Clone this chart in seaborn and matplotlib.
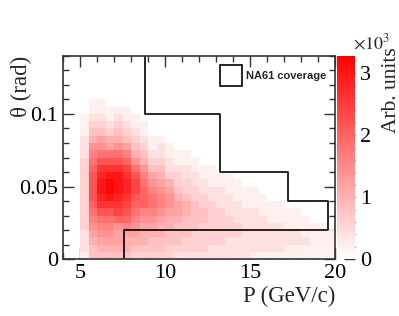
import numpy as np
import pandas as pd
import seaborn as sns
import matplotlib.pyplot as plt
from matplotlib.colors import LinearSegmentedColormap
from matplotlib.patches import Patch
from matplotlib.ticker import MultipleLocator, FuncFormatter

# Binning: P (GeV/c) and theta (rad)
p_edges = np.linspace(4.0, 20.0, 33)
theta_edges = np.linspace(0.0, 0.14, 29)

# One string per P bin, one base-36 digit per theta bin (theta = 0 upward).
# Each digit counts in units of 200 (so 'g' = 3200).
theta_profiles = [
    "",
    "",
    "12223333333333222111",
    "4456789abbbba987543211",
    "456789bdeffedb97643211",
    "456789bdfggfdb9653211",
    "45667acdefffdb9754321",
    "45568abcdeedca8643211",
    "3456789abccb97543211",
    "3455678aaa987543211",
    "34456789987643211",
    "34455678876543221",
    "3344556776532211",
    "234445665433211",
    "233444554332211",
    "23334444332211",
    "2333344332211",
    "2233333322111",
    "223333322211",
    "222333222111",
    "22233222111",
    "2222222111",
    "1222222111",
    "122222111",
    "12222111",
    "12222111",
    "1122111",
    "1122111",
    "112111",
    "11111",
    "11111",
    "1111",
]
count_unit = 200

# NA61 acceptance boundary
cov_p = [7.6, 7.6, 19.6, 19.6, 17.2, 17.2, 13.2, 13.2, 8.8, 8.8]
cov_theta = [0.0, 0.02, 0.02, 0.04, 0.04, 0.06, 0.06, 0.10, 0.10, 0.15]

# Colour bar ticks (x10^3)
cbar_ticks = [0, 1000, 2000, 3000]
cbar_labels = ["0", "1", "2", "3"]

p_mid = (p_edges[:-1] + p_edges[1:]) / 2
t_mid = (theta_edges[:-1] + theta_edges[1:]) / 2
rows = []
for p, prof in zip(p_mid, theta_profiles):
    for t, ch in zip(t_mid, prof.ljust(len(t_mid), "0")):
        rows.append((p, t, int(ch, 36) * count_unit))
df = pd.DataFrame(rows, columns=["P", "theta", "counts"])

sns.set_style("ticks")
plt.rcParams["font.family"] = ["Liberation Serif", "DejaVu Serif"]
plt.rcParams["mathtext.fontset"] = "stix"
plt.rcParams["axes.edgecolor"] = "#333333"
plt.rcParams["xtick.color"] = "#333333"
plt.rcParams["ytick.color"] = "#333333"
plt.rcParams["xtick.labelcolor"] = "black"
plt.rcParams["ytick.labelcolor"] = "black"

cmap = LinearSegmentedColormap.from_list("white_red", ["#ffffff", "#ff0000"])

fig = plt.figure(figsize=(3.99, 3.16), dpi=100)
ax = fig.add_axes([0.158, 0.180, 0.682, 0.643])
cax = fig.add_axes([0.844, 0.180, 0.046, 0.643])

sns.histplot(data=df, x="P", y="theta", weights="counts",
             bins=(p_edges, theta_edges), cmap=cmap, vmin=0, vmax=3280,
             cbar=True, cbar_ax=cax, ax=ax)

ax.plot(cov_p, cov_theta, color="black", lw=1.2)

ax.set_xlim(4, 20)
ax.set_ylim(0, 0.14)
ax.xaxis.set_major_locator(MultipleLocator(5))
ax.xaxis.set_minor_locator(MultipleLocator(1))
ax.yaxis.set_major_locator(MultipleLocator(0.05))
ax.yaxis.set_minor_locator(MultipleLocator(0.01))
ax.yaxis.set_major_formatter(FuncFormatter(lambda v, _: "%g" % round(v, 3)))
ax.tick_params(which="both", direction="in", top=True, right=True,
               labelsize=16, width=1)
ax.tick_params(which="major", length=8)
ax.tick_params(which="minor", length=4)
for s in ax.spines.values():
    s.set_linewidth(1.2)

ax.set_xlabel("P (GeV/c)", fontsize=16.5, loc="right", labelpad=2)
ax.set_ylabel("θ (rad)", fontsize=16.5, loc="top")
ax.yaxis.set_label_coords(-0.115, 1.0)

leg_handle = Patch(facecolor="none", edgecolor="black", lw=1.2,
                   label="NA61 coverage")
ax.legend(handles=[leg_handle], loc="upper right", frameon=False,
          prop={"family": "Liberation Sans", "weight": "bold", "size": 8},
          handlelength=1.9, handleheight=2.6, handletextpad=0.4,
          borderaxespad=0.4)

cbar = ax.collections[0].colorbar
cbar.outline.set_visible(False)
cbar.set_ticks(cbar_ticks)
cbar.set_ticklabels(cbar_labels)
cax.yaxis.set_minor_locator(MultipleLocator(200))
cax.tick_params(which="both", direction="in", labelsize=16, width=1)
cax.tick_params(which="major", length=8)
cax.tick_params(which="minor", length=4)

fig.text(0.884, 0.832, r"$\times10^{3}$", fontsize=13, ha="left", va="bottom")
fig.text(0.98, 0.85, "Arb. units", fontsize=15.5, rotation=90,
         ha="center", va="top")

fig.savefig("out.png", dpi=100)
